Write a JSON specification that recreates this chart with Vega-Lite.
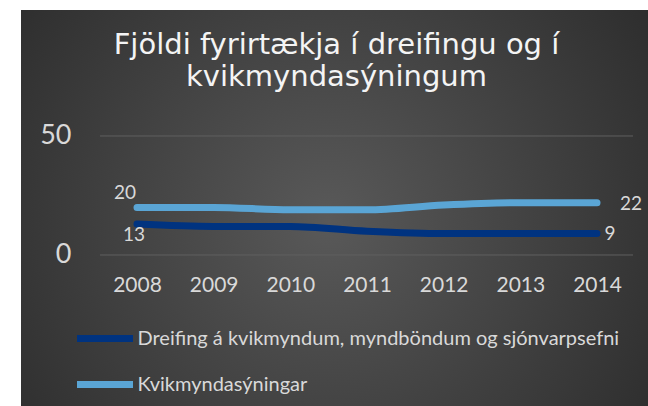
{
  "$schema": "https://vega.github.io/schema/vega-lite/v6.json",
  "width": 627,
  "height": 396,
  "autosize": {"type": "none"},
  "padding": {"left": 21, "top": 10, "right": 0, "bottom": 0},
  "background": "white",
  "config": {"view": {"stroke": null}, "font": "Lato"},
  "title": {
    "text": ["Fjöldi fyrirtækja í dreifingu og í", "kvikmyndasýningum"],
    "font": "DejaVu Sans",
    "fontSize": 29,
    "fontWeight": "normal",
    "color": "#f4f4f4",
    "anchor": "middle",
    "baseline": "alphabetic",
    "lineHeight": 32,
    "offset": -105,
    "dx": 2
  },
  "datasets": {
    "series": [
      {"year": 2008, "series": "Dreifing á kvikmyndum, myndböndum og sjónvarpsefni", "value": 13},
      {"year": 2009, "series": "Dreifing á kvikmyndum, myndböndum og sjónvarpsefni", "value": 12},
      {"year": 2010, "series": "Dreifing á kvikmyndum, myndböndum og sjónvarpsefni", "value": 12},
      {"year": 2011, "series": "Dreifing á kvikmyndum, myndböndum og sjónvarpsefni", "value": 10},
      {"year": 2012, "series": "Dreifing á kvikmyndum, myndböndum og sjónvarpsefni", "value": 9},
      {"year": 2013, "series": "Dreifing á kvikmyndum, myndböndum og sjónvarpsefni", "value": 9},
      {"year": 2014, "series": "Dreifing á kvikmyndum, myndböndum og sjónvarpsefni", "value": 9},
      {"year": 2008, "series": "Kvikmyndasýningar", "value": 20},
      {"year": 2009, "series": "Kvikmyndasýningar", "value": 20},
      {"year": 2010, "series": "Kvikmyndasýningar", "value": 19},
      {"year": 2011, "series": "Kvikmyndasýningar", "value": 19},
      {"year": 2012, "series": "Kvikmyndasýningar", "value": 21},
      {"year": 2013, "series": "Kvikmyndasýningar", "value": 22},
      {"year": 2014, "series": "Kvikmyndasýningar", "value": 22}
    ],
    "grid": [{"v": 0}, {"v": 50}]
  },
  "layer": [
    {
      "data": {"values": [{"bg": 1}]},
      "mark": {
        "type": "rect",
        "fill": {
          "gradient": "radial",
          "x1": 0.49, "y1": 0.52, "x2": 0.49, "y2": 0.52,
          "r1": 0, "r2": 0.72,
          "stops": [
            {"offset": 0, "color": "#595959"},
            {"offset": 1, "color": "#262626"}
          ]
        }
      },
      "encoding": {}
    },
    {
      "data": {"name": "series"},
      "mark": {"type": "line", "strokeWidth": 7, "strokeCap": "round", "strokeJoin": "round", "interpolate": "monotone"},
      "encoding": {
        "x": {
          "field": "year", "type": "quantitative",
          "scale": {"domain": [2006.487, 2014.665], "nice": false, "zero": false},
          "axis": {
            "values": [2008, 2009, 2010, 2011, 2012, 2013, 2014],
            "format": "d",
            "orient": "bottom",
            "offset": -121,
            "zindex": 1,
            "labelBaseline": "middle",
            "labelPadding": 0,
            "labelFlush": false,
            "labelOverlap": false,
            "ticks": false,
            "domain": false,
            "grid": false,
            "title": null,
            "labelFont": "Lato",
            "labelFontSize": 21,
            "labelColor": "#d9d9d9"
          }
        },
        "y": {
          "field": "value", "type": "quantitative",
          "scale": {"domain": [-63.45, 102.94], "nice": false, "zero": false},
          "axis": {
            "values": [0, 50],
            "orient": "left",
            "offset": -52,
            "zindex": 1,
            "labelPadding": 2,
            "labelBaseline": "middle",
            "ticks": false,
            "domain": false,
            "grid": false,
            "title": null,
            "labelFont": "Lato",
            "labelFontSize": 27,
            "labelColor": "#d9d9d9"
          }
        },
        "color": {
          "field": "series", "type": "nominal",
          "scale": {
            "domain": ["Dreifing á kvikmyndum, myndböndum og sjónvarpsefni", "Kvikmyndasýningar"],
            "range": ["#003380", "#5aa5d5"]
          },
          "legend": {
            "orient": "none",
            "legendX": 52.5,
            "legendY": 297,
            "direction": "vertical",
            "title": null,
            "zindex": 1,
            "symbolType": "stroke",
            "symbolSize": 3136,
            "symbolStrokeWidth": 7,
            "symbolOffset": 0,
            "labelOffset": 1,
            "labelFont": "Lato",
            "labelFontSize": 20,
            "labelColor": "#d9d9d9",
            "labelLimit": 700,
            "rowPadding": -24
          }
        }
      }
    },
    {
      "data": {"name": "grid"},
      "mark": {"type": "rule", "color": "#606060", "strokeWidth": 1},
      "encoding": {
        "y": {"field": "v", "type": "quantitative"},
        "x": {"datum": 2007.517, "type": "quantitative"},
        "x2": {"datum": 2014.47}
      }
    },
    {
      "data": {"name": "series"},
      "transform": [{"filter": "datum.year == 2008 && datum.series == 'Kvikmyndasýningar'"}],
      "mark": {"type": "text", "font": "Lato", "fontSize": 19, "color": "#d9d9d9", "align": "center", "baseline": "middle", "dx": -12, "dy": -14},
      "encoding": {
        "x": {"field": "year", "type": "quantitative"},
        "y": {"field": "value", "type": "quantitative"},
        "text": {"field": "value", "type": "quantitative"}
      }
    },
    {
      "data": {"name": "series"},
      "transform": [{"filter": "datum.year == 2008 && datum.series != 'Kvikmyndasýningar'"}],
      "mark": {"type": "text", "font": "Lato", "fontSize": 19, "color": "#d9d9d9", "align": "center", "baseline": "middle", "dx": -3, "dy": 11},
      "encoding": {
        "x": {"field": "year", "type": "quantitative"},
        "y": {"field": "value", "type": "quantitative"},
        "text": {"field": "value", "type": "quantitative"}
      }
    },
    {
      "data": {"name": "series"},
      "transform": [{"filter": "datum.year == 2014 && datum.series == 'Kvikmyndasýningar'"}],
      "mark": {"type": "text", "font": "Lato", "fontSize": 19, "color": "#d9d9d9", "align": "center", "baseline": "middle", "dx": 34, "dy": 1},
      "encoding": {
        "x": {"field": "year", "type": "quantitative"},
        "y": {"field": "value", "type": "quantitative"},
        "text": {"field": "value", "type": "quantitative"}
      }
    },
    {
      "data": {"name": "series"},
      "transform": [{"filter": "datum.year == 2014 && datum.series != 'Kvikmyndasýningar'"}],
      "mark": {"type": "text", "font": "Lato", "fontSize": 19, "color": "#d9d9d9", "align": "center", "baseline": "middle", "dx": 13, "dy": 0},
      "encoding": {
        "x": {"field": "year", "type": "quantitative"},
        "y": {"field": "value", "type": "quantitative"},
        "text": {"field": "value", "type": "quantitative"}
      }
    }
  ]
}
